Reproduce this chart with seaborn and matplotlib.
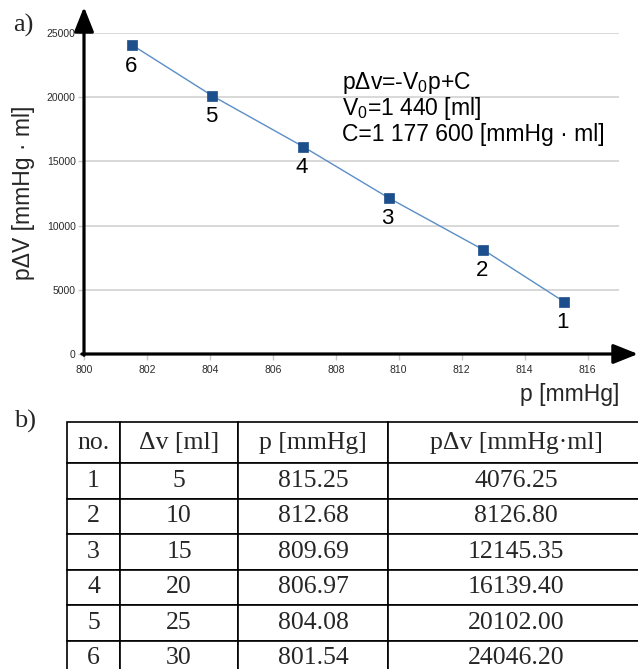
import matplotlib
matplotlib.use("Agg")
import matplotlib.pyplot as plt
import seaborn as sns
import pandas as pd

# ---- data ----
point_no = ["1", "2", "3", "4", "5", "6"]
dv_ml = ["5", "10", "15", "20", "25", "30"]
p_mmhg = [815.25, 812.68, 809.69, 806.97, 804.08, 801.54]
pdv = [4076.25, 8126.80, 12145.35, 16139.40, 20102.00, 24046.20]
x_ticks = [800, 802, 804, 806, 808, 810, 812, 814, 816]
y_ticks = [0, 5000, 10000, 15000, 20000, 25000]
table_header = ["no.", "\u0394v [ml]", "p [mmHg]", "p\u0394v [mmHg\u00b7ml]"]
eq_lines = [r"p$\Delta$v=-V$_0$p+C", r"V$_0$=1 440 [ml]", "C=1 177 600 [mmHg \u00b7 ml]"]

df = pd.DataFrame({"p": p_mmhg, "pdv": pdv, "no": point_no})

sns.set_theme(style="white")
plt.rcParams["font.family"] = ["Liberation Sans", "DejaVu Sans"]
plt.rcParams["mathtext.fontset"] = "custom"
plt.rcParams["mathtext.rm"] = "Liberation Sans"
plt.rcParams["mathtext.it"] = "Liberation Sans:italic"
plt.rcParams["mathtext.default"] = "regular"

W, H = 638, 669
fig = plt.figure(figsize=(W / 100, H / 100), dpi=100)
fig.patch.set_facecolor("white")

# chart axes
x0, x1, y0, y1 = 84, 619, 354, 33
ax = fig.add_axes([x0 / W, 1 - y0 / H, (x1 - x0) / W, (y0 - y1) / H])
ax.set_xlim(800, 817)
ax.set_ylim(0, 25000)
for s in ax.spines.values():
    s.set_visible(False)
ax.yaxis.grid(True, color="#d6d6d6", lw=1.3)
ax.xaxis.grid(False)
ax.set_axisbelow(True)
ax.set_xticks(x_ticks)
ax.set_yticks(y_ticks)
ax.set_xticklabels([str(v) for v in x_ticks])
ax.set_yticklabels([str(v) for v in y_ticks])
ax.tick_params(axis="both", which="major", labelsize=7.5, labelcolor="#2a2a2a",
               color="#c8c8c8", width=1, length=4, pad=2)
ax.tick_params(axis="x", bottom=True, pad=4)
ax.tick_params(axis="y", left=True)

sns.lineplot(data=df, x="p", y="pdv", sort=False, color="#5a8ec6", lw=1.0, ax=ax, zorder=3)
sns.scatterplot(data=df, x="p", y="pdv", marker="s", s=55, color="#1d4f8c",
                edgecolor="#1d4f8c", linewidth=0.5, ax=ax, zorder=4)
ax.set_xlabel("")
ax.set_ylabel("")

for xi, yi, lab in zip(df["p"], df["pdv"], df["no"]):
    ax.annotate(lab, (xi, yi), xytext=(-1, -15), textcoords="offset points",
                ha="center", va="center", fontsize=16, color="black")

# axis arrows
arrow_kw = dict(arrowstyle="-|>,head_length=1.5,head_width=0.6", lw=2.3,
                color="black", shrinkA=0, shrinkB=0, mutation_scale=10)
ax.annotate("", xy=((638 - x0) / (x1 - x0), 0), xytext=(-0.004, 0),
            xycoords="axes fraction", textcoords="axes fraction",
            arrowprops=arrow_kw, annotation_clip=False)
ax.annotate("", xy=(0, (y0 - 7) / (y0 - y1)), xytext=(0, -0.004),
            xycoords="axes fraction", textcoords="axes fraction",
            arrowprops=arrow_kw, annotation_clip=False)

# equation text
for line, yb in zip(eq_lines, [89, 115, 141]):
    ax.text((342 - x0) / (x1 - x0), (y0 - yb) / (y0 - y1), line,
            transform=ax.transAxes, ha="left", va="baseline", fontsize=16.5, color="black")

# axis labels
fig.text(24 / W, 1 - 193 / H, "p\u0394V [mmHg \u00b7 ml]", rotation=90,
         ha="center", va="center", fontsize=16.5)
fig.text(619 / W, 1 - 395 / H, "p [mmHg]", ha="right", va="center", fontsize=16.5)

# panel letters
fig.text(13 / W, 1 - 25 / H, "a)", ha="left", va="center", fontsize=19,
         family="Liberation Serif")
fig.text(14 / W, 1 - 421 / H, "b)", ha="left", va="center", fontsize=19,
         family="Liberation Serif")

# table
tx0, tx1, ty0, ty1 = 67, 644, 422, 676
tax = fig.add_axes([tx0 / W, 1 - ty1 / H, (tx1 - tx0) / W, (ty1 - ty0) / H])
tax.axis("off")
cell_text = [[n, d, f"{p:.2f}", f"{v:.2f}"] for n, d, p, v in zip(point_no, dv_ml, p_mmhg, pdv)]
col_w = [53, 118, 150, 256]
tot = sum(col_w)
tbl = tax.table(cellText=cell_text, colLabels=table_header, cellLoc="center",
                colWidths=[c / tot for c in col_w], bbox=[0, 0, 1, 1])
tbl.auto_set_font_size(False)
for (r, c), cell in tbl.get_celld().items():
    cell.set_height(41 if r == 0 else 35.5)
    cell.set_linewidth(1.2)
    cell.set_edgecolor("black")
    cell.get_text().set_fontsize(18.5)
    cell.get_text().set_family("Liberation Serif")

fig.savefig("out.png", dpi=100, facecolor="white")
